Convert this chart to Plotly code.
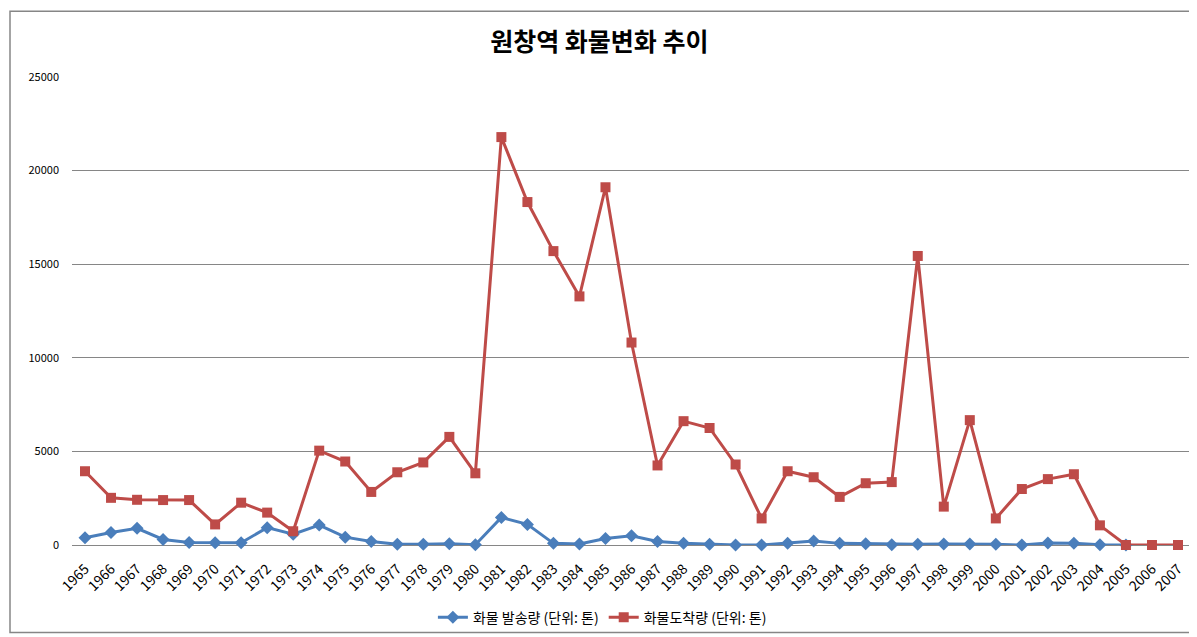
import plotly.graph_objects as go

# 연도 및 화물 데이터 (단위: 톤)
years = [str(y) for y in range(1965, 2008)]

balsong = [383, 665, 890, 297, 140, 122, 122, 927, 577, 1067,
           420, 192, 35, 35, 70, 17, 1470, 1100, 87, 52,
           350, 490, 192, 87, 35, 0, 0, 87, 210, 87,
           70, 17, 35, 52, 52, 35, 0, 105, 87, 17,
           0, None, None]

dochak = [3940, 2520, 2415, 2400, 2400, 1100, 2260, 1730, 735, 5040,
          4460, 2835, 3885, 4410, 5775, 3830, 21790, 18320, 15700, 13280,
          19110, 10815, 4250, 6615, 6250, 4300, 1420, 3940, 3620, 2570,
          3300, 3360, 15440, 2050, 6670, 1420, 2990, 3520, 3780, 1050,
          0, 0, 0]

y_ticks = [0, 5000, 10000, 15000, 20000, 25000]
y_labels = ["0", "5000", "10000", "15000", "20000", "25000"]

font_kr = "Noto Sans CJK KR"

fig = go.Figure()
fig.add_trace(go.Scatter(
    x=years, y=balsong, mode="lines+markers",
    name="화물 발송량 (단위: 톤)", cliponaxis=False,
    line=dict(color="#4A7EBB", width=3),
    marker=dict(symbol="diamond", size=10, color="#4A7EBB"),
))
fig.add_trace(go.Scatter(
    x=years, y=dochak, mode="lines+markers",
    name="화물도착량 (단위: 톤)", cliponaxis=False,
    line=dict(color="#BE4B48", width=3),
    marker=dict(symbol="square", size=10, color="#BE4B48"),
))

fig.update_layout(
    width=1197, height=637,
    paper_bgcolor="white", plot_bgcolor="white",
    margin=dict(l=64, r=14, t=69, b=92),
    font=dict(family=font_kr, color="black"),
    title=dict(text="<b>원창역 화물변화 추이</b>", x=0.494, xanchor="center",
               y=1 - 34 / 637, yanchor="middle",
               font=dict(size=25, family=font_kr, color="black")),
    legend=dict(orientation="h", x=0.474, xanchor="center", y=-0.155, yanchor="middle",
                font=dict(size=14, family=font_kr), itemwidth=30,
                bgcolor="rgba(0,0,0,0)"),
    showlegend=True,
)
fig.update_xaxes(type="category", range=[-0.5, len(years) - 0.5], tickangle=-45,
                 showgrid=False, showline=False, ticklabelstandoff=12,
                 tickfont=dict(size=14, family=font_kr), ticks="", zeroline=False,
                 automargin=False)
fig.update_yaxes(range=[0, 25000], tickvals=y_ticks, ticktext=y_labels,
                 showgrid=True, gridcolor="#868686",
                 gridwidth=1, zeroline=True, zerolinecolor="#868686", zerolinewidth=1,
                 showline=False, ticks="", ticklabelstandoff=12, automargin=False,
                 tickfont=dict(size=11, family=font_kr))

# 차트 테두리
fig.add_shape(type="rect", xref="paper", yref="paper",
              x0=(2 - 64) / 1119, x1=(1195 - 64) / 1119,
              y0=(545 - 634) / 476, y1=(545 - 2) / 476,
              line=dict(color="#868686", width=1.5), layer="below")

fig.write_html("out.html")
